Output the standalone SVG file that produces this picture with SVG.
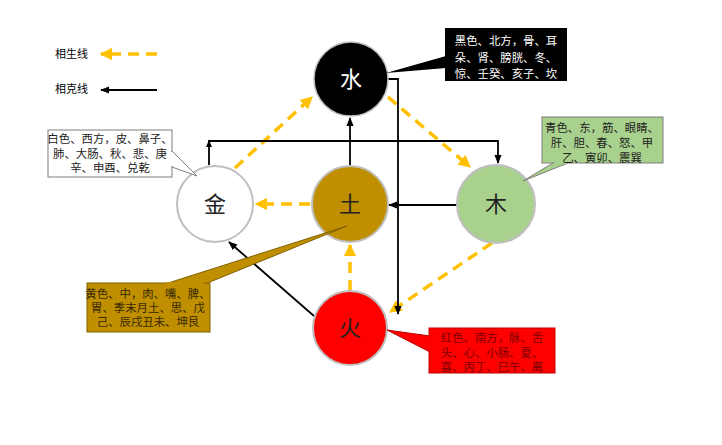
<svg xmlns="http://www.w3.org/2000/svg" width="722" height="445" viewBox="0 0 722 445">
<style>
text{font-family:"Liberation Serif","Noto Sans CJK SC",serif;}
.box{font-size:11.4px;text-anchor:middle;}
.lbl{font-size:22px;text-anchor:middle;dominant-baseline:central;}
.sheng{stroke:#FFC000;stroke-width:3.5;stroke-dasharray:11 7;fill:none;}
.ke{stroke:#000;stroke-width:1.8;fill:none;}
.circ{stroke:#BFBFBF;stroke-width:2;}
</style>
<defs>
<marker id="ya" viewBox="0 0 10 10" refX="9" refY="5" markerWidth="3.6" markerHeight="3.6" markerUnits="strokeWidth" orient="auto"><path d="M0,0L10,5L0,10z" fill="#FFC000"/></marker>
<marker id="ka" viewBox="0 0 10 10" refX="9" refY="5" markerWidth="5" markerHeight="5" markerUnits="strokeWidth" orient="auto"><path d="M0,1L10,5L0,9z" fill="#000"/></marker>
</defs>
<rect width="722" height="445" fill="#fff"/>

<g id="legend">
<text x="55" y="58" font-size="11">相生线</text>
<line class="sheng" x1="157" y1="54" x2="101" y2="54" marker-end="url(#ya)"/>
<text x="55" y="93" font-size="11">相克线</text>
<line class="ke" x1="157" y1="90" x2="101" y2="90" marker-end="url(#ka)"/>
</g>

<g id="connectors">
<line class="sheng" x1="235" y1="168" x2="312" y2="97" marker-end="url(#ya)"/>
<line class="sheng" x1="388" y1="97" x2="470" y2="167" marker-end="url(#ya)"/>
<line class="sheng" x1="492" y1="243" x2="390" y2="312" marker-end="url(#ya)"/>
<line class="sheng" x1="350" y1="291" x2="350" y2="245" marker-end="url(#ya)"/>
<line class="sheng" x1="310" y1="204" x2="256" y2="204" marker-end="url(#ya)"/>
<path class="ke" d="M387,79H398V314" marker-end="url(#ka)"/>
<path class="ke" d="M209,165V141H498V163" marker-end="url(#ka)"/>
<path d="M209,140L206,147H212z" fill="#000"/>
<line class="ke" x1="350" y1="166" x2="350" y2="118" marker-end="url(#ka)"/>
<line class="ke" x1="457" y1="205" x2="389" y2="205" marker-end="url(#ka)"/>
<line class="ke" x1="314" y1="316" x2="229" y2="242" marker-end="url(#ka)"/>
</g>

<g id="n-water">
<circle cx="351" cy="79" r="37" fill="#000" stroke="#BFBFBF" stroke-width="1.5"/>
<text class="lbl" x="351" y="79" fill="#fff">水</text>
</g>
<g id="n-metal">
<circle class="circ" cx="215" cy="204" r="38" fill="#fff"/>
<text class="lbl" x="215" y="204" fill="#222">金</text>
</g>
<g id="n-earth">
<circle class="circ" cx="350" cy="204" r="38" fill="#BF8F00"/>
<text class="lbl" x="350" y="204" fill="#222">土</text>
</g>
<g id="n-wood">
<circle class="circ" cx="496" cy="204" r="39" fill="#A9D18E"/>
<text class="lbl" x="496" y="204" fill="#222">木</text>
</g>
<g id="n-fire">
<circle class="circ" cx="350" cy="328" r="37" fill="#FF0000"/>
<text class="lbl" x="350" y="328" fill="#222">火</text>
</g>

<g id="c-water">
<polygon points="446,56 446,68 386,73" fill="#000"/>
<rect x="445" y="28" width="122" height="53" fill="#000"/>
<text class="box" x="506" y="45" fill="#fff">黑色、北方，骨、耳</text>
<text class="box" x="506" y="62" fill="#fff">朵、肾、膀胱、冬、</text>
<text class="box" x="506" y="78" fill="#fff">惊、壬癸、亥子、坎</text>
</g>
<g id="c-metal">
<rect x="48" y="130" width="124" height="47" fill="#fff" stroke="#7F7F7F" stroke-width="1"/>
<polygon points="172,151 197,176 172,167" fill="#fff" stroke="#7F7F7F" stroke-width="1"/>
<line x1="172" y1="152" x2="172" y2="166" stroke="#fff" stroke-width="2"/>
<text class="box" x="110" y="143" fill="#222">白色、西方，皮、鼻子、</text>
<text class="box" x="110" y="158" fill="#222">肺、大肠、秋、悲、庚</text>
<text class="box" x="110" y="172" fill="#222">辛、申酉、兑乾</text>
</g>
<g id="c-wood">
<rect x="542" y="117" width="121" height="46" fill="#A9D18E" stroke="#7F7F7F" stroke-width="1"/>
<polygon points="553,163 523,181 568,163" fill="#A9D18E" stroke="#7F7F7F" stroke-width="1"/>
<line x1="554" y1="163" x2="567" y2="163" stroke="#A9D18E" stroke-width="2"/>
<text class="box" x="602" y="132" fill="#222">青色、东，筋、眼睛、</text>
<text class="box" x="602" y="147" fill="#222">肝、胆、春、怒、甲</text>
<text class="box" x="602" y="162" fill="#222">乙、寅卯、震巽</text>
</g>
<g id="c-earth">
<polygon points="165,284 205,284 347,226" fill="#BF8F00" stroke="#7F6000" stroke-width="1"/>
<rect x="87" y="283" width="123" height="49" fill="#BF8F00" stroke="#7F6000" stroke-width="1"/>
<line x1="166" y1="283" x2="204" y2="283" stroke="#BF8F00" stroke-width="2"/>
<text class="box" x="148" y="298" fill="#3a2a00">黄色、中，肉、嘴、脾、</text>
<text class="box" x="148" y="312" fill="#3a2a00">胃、季末月土、思、戊</text>
<text class="box" x="148" y="326" fill="#3a2a00">己、辰戌丑未、坤艮</text>
</g>
<g id="c-fire">
<polygon points="387,330 430,336 430,352" fill="#FF0000" stroke="#C00000" stroke-width="1"/>
<rect x="429" y="328" width="126" height="45" fill="#FF0000" stroke="#C00000" stroke-width="1"/>
<line x1="429" y1="337" x2="429" y2="351" stroke="#FF0000" stroke-width="2"/>
<text class="box" x="492" y="342" fill="#7a0000">红色、南方，脉、舌</text>
<text class="box" x="492" y="357" fill="#7a0000">头、心、小肠、夏、</text>
<text class="box" x="492" y="371" fill="#7a0000">喜、丙丁、巳午、离</text>
</g>
</svg>
